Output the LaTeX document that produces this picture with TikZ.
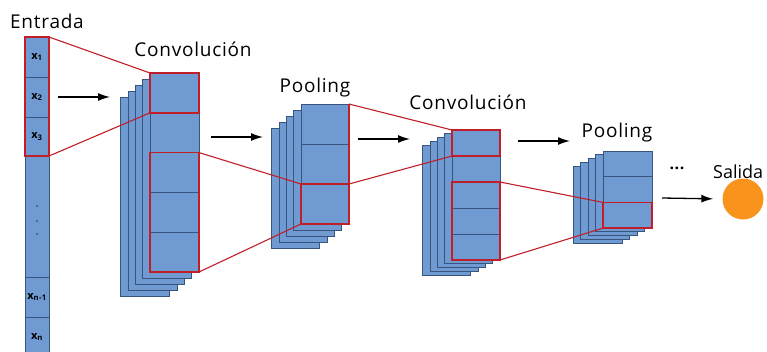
\documentclass[tikz,border=0pt]{standalone}
\usepackage{fontspec}
\setmainfont{Open Sans}[LetterSpace=4]
\newfontfamily\tightfont{Open Sans}
\usetikzlibrary{arrows.meta}
\definecolor{cellblue}{RGB}{112,155,210}
\definecolor{celledge}{RGB}{58,85,125}
\definecolor{redc}{RGB}{192,30,40}
\definecolor{orangec}{RGB}{248,148,28}
\begin{document}
\begin{tikzpicture}[x=1pt,y=-1pt,
  cell/.style={draw=celledge, fill=cellblue, line width=0.8pt, inner sep=0pt, outer sep=0pt, anchor=north west},
  redbox/.style={draw=redc, line width=1.6pt},
  redline/.style={draw=redc, line width=1.1pt},
  flow/.style={-{Latex[length=12pt,width=8pt]}, line width=1.3pt},
  lbl/.style={font=\fontsize{19}{21}\selectfont, inner sep=0pt},
  xl/.style={font=\fontsize{11}{13}\selectfont\bfseries}
]
\useasboundingbox (0,0) rectangle (767,351);

% ---- input column
\tikzset{inp/.style={cell, minimum width=24pt, minimum height=#1}}
\node[inp=40pt] (x1) at (25,37) {};
\node[inp=40pt] (x2) at (25,77) {};
\node[inp=39pt] (x3) at (25,117) {};
\node[inp=121pt] (xd) at (25,156) {};
\node[inp=40pt] (xm) at (25,277) {};
\node[inp=40pt] (xn) at (25,317) {};
\node[xl] (lx1) at (x1.center) {x\textsubscript{1}};
\node[xl] (lx2) at (x2.center) {x\textsubscript{2}};
\node[xl] (lx3) at (x3.center) {x\textsubscript{3}};
\node[xl] (lxm) at (xm.center) {x\textsubscript{n-1}};
\node[xl] (lxn) at (xn.center) {x\textsubscript{n}};
\foreach \yy [count=\i] in {206,221,234}
  \fill[black!80] (37,\yy) circle (0.8pt) coordinate (dot\i);
\draw[redbox] (x1.north west) rectangle (x3.south east);

% ---- convolution 1
\foreach \k in {4,3,2,1}
  \node[cell, minimum width=49pt, minimum height=199pt] (c1l\k) at ({150-7.3*\k},{73+6*\k}) {};
\foreach \n [count=\i from 0] in {a,b,c,d,e}
  \node[cell, minimum width=49pt, minimum height=39.8pt] (c1\n) at (150,{73+39.8*\i}) {};
\draw[redbox] (c1a.north west) rectangle (c1a.south east);
\draw[redbox] (c1c.north west) rectangle (c1e.south east);

% ---- pooling 1
\foreach \k in {4,3,2,1}
  \node[cell, minimum width=48pt, minimum height=120pt] (p1l\k) at ({301-7.3*\k},{104+6.2*\k}) {};
\foreach \n [count=\i from 0] in {a,b,c}
  \node[cell, minimum width=48pt, minimum height=40pt] (p1\n) at (301,{104+40*\i}) {};
\draw[redbox] (p1c.north west) rectangle (p1c.south east);
\draw[redbox] (p1a.north east) -- (p1b.south east);

% ---- convolution 2
\foreach \k in {4,3,2,1}
  \node[cell, minimum width=48pt, minimum height=130pt] (c2l\k) at ({452-7.3*\k},{130+3.75*\k}) {};
\foreach \n [count=\i from 0] in {a,b,c,d,e}
  \node[cell, minimum width=48pt, minimum height=26pt] (c2\n) at (452,{130+26*\i}) {};
\draw[redbox] (c2a.north west) rectangle (c2a.south east);
\draw[redbox] (c2c.north west) rectangle (c2e.south east);

% ---- pooling 2
\foreach \k in {4,3,2,1}
  \node[cell, minimum width=49pt, minimum height=77pt] (p2l\k) at ({603-7.5*\k},{151+3.8*\k}) {};
\foreach \n [count=\i from 0] in {a,b,c}
  \node[cell, minimum width=49pt, minimum height=25.7pt] (p2\n) at (603,{151+25.7*\i}) {};
\draw[redbox] (p2c.north west) rectangle (p2c.south east);

% ---- red receptive-field connectors
\draw[redline] (x1.north east) -- (c1a.north west);
\draw[redline] (x3.south east) -- (c1a.south west);
\draw[redline] (c1c.north east) -- (p1c.north west);
\draw[redline] (c1e.south east) -- (p1c.south west);
\draw[redline] (p1a.north east) -- (c2a.north west);
\draw[redline] (p1b.south east) -- (c2a.south west);
\draw[redline] (c2c.north east) -- (p2c.north west);
\draw[redline] (c2e.south east) -- (p2c.south west);

% ---- output
\node[circle, fill=orangec, minimum size=41pt, inner sep=0pt] (out) at (743,199) {};

% ---- flow arrows
\coordinate (a1s) at (58,97);   \coordinate (a1e) at (110,97);
\coordinate (a2s) at (211,137); \coordinate (a2e) at (263,137);
\coordinate (a3s) at (358,139); \coordinate (a3e) at (410,139);
\coordinate (a4s) at (518,141); \coordinate (a4e) at (570,141);
\coordinate (a5s) at (662,198);
\draw[flow] (a1s) -- (a1e);
\draw[flow] (a2s) -- (a2e);
\draw[flow] (a3s) -- (a3e);
\draw[flow] (a4s) -- (a4e);
\draw[flow, shorten >=9pt] (a5s) -- (out.west);

% ---- labels
\node[lbl] (tin) at (47,21) {Entrada};
\node[lbl] (tc1) at (193,49) {Convolución};
\node[lbl] (tp1) at (315,88) {Pooling};
\node[lbl] (tc2) at (468,102) {Convolución};
\node[lbl] (tp2) at (617,133) {Pooling};
\node[lbl, font=\tightfont\fontsize{18}{20}\selectfont, anchor=base west] (tout) at (713,178) {Salida};
\node[lbl, font=\fontsize{16}{18}\selectfont\bfseries, anchor=base] (tdots) at (677,169) {...};
\end{tikzpicture}
\end{document}
